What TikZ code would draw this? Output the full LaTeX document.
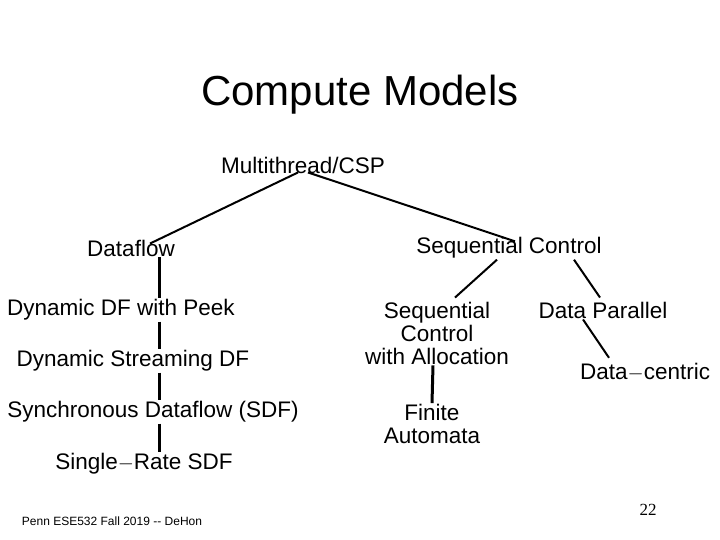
\documentclass[tikz,border=0pt]{standalone}
\usepackage{fontspec}
\setmainfont{Liberation Sans}
\newfontfamily\numfont{Liberation Serif}
\begin{document}
\begin{tikzpicture}[x=1pt,y=-1pt,
  model/.style={inner sep=1pt,font=\fontsize{22.5}{23}\selectfont,align=center},
  link/.style={line width=2pt},
  bar/.style={line width=3pt}]
  \useasboundingbox (0,0) rectangle (720,540);
  \node (title) at (360,95) {\fontsize{42}{44}\selectfont Compute Models};
  \node[model] (mt) at (303,165) {Multithread/CSP};
  \node[model] (df) at (131,248) {Dataflow};
  \node[model] (sc) at (509,248) {Sequential Control};
  \node[model] (peek) at (121,310) {Dynamic DF with Peek};
  \node[model] (dsdf) at (133,361) {Dynamic Streaming DF};
  \node[model] (sdf) at (153,412) {Synchronous Dataflow (SDF)};
  \node[model] (srsdf) at (144,464) {Single$-$Rate SDF};
  \node[model] (alloc) at (437,333) {Sequential\\Control\\with Allocation};
  \node[model] (dp) at (603,310) {Data Parallel};
  \node[model,anchor=west] (dc) at (579,372) {Data$-$centric};
  \node[model] (fa) at (432,424) {Finite\\Automata};
  \node (foot) at (112,521) {\fontsize{12}{14}\selectfont Penn ESE532 Fall 2019 {-}{-} DeHon};
  \node (page) at (648,510) {\numfont\fontsize{17}{20}\selectfont 22};
  % tree edges
  \draw[link] ([xshift=-5pt,yshift=2pt]mt.south) -- ([xshift=19pt,yshift=-5pt]df.north);
  \draw[link] ([xshift=5pt,yshift=2pt]mt.south) -- ([xshift=6pt,yshift=-5pt]sc.north);
  \draw[bar] ([xshift=28pt]df.south) -- ([xshift=38pt]peek.north);
  \draw[bar] ([xshift=38pt]peek.south) -- ([xshift=26pt]dsdf.north);
  \draw[bar] ([xshift=26pt]dsdf.south) -- ([xshift=6pt]sdf.north);
  \draw[bar] ([xshift=6pt]sdf.south) -- ([xshift=15pt]srsdf.north);
  \draw[link] ([xshift=-12pt]sc.south) -- ([xshift=18pt,yshift=3pt]alloc.north);
  \draw[link] ([xshift=65pt]sc.south) -- ([xshift=-3pt,yshift=3pt]dp.north);
  \draw[link] ([xshift=-20pt]dp.south) -- ([xshift=30pt,yshift=4pt]dc.north west);
  \draw[bar] ([xshift=-4pt]alloc.south) -- (fa.north);
\end{tikzpicture}
\end{document}
